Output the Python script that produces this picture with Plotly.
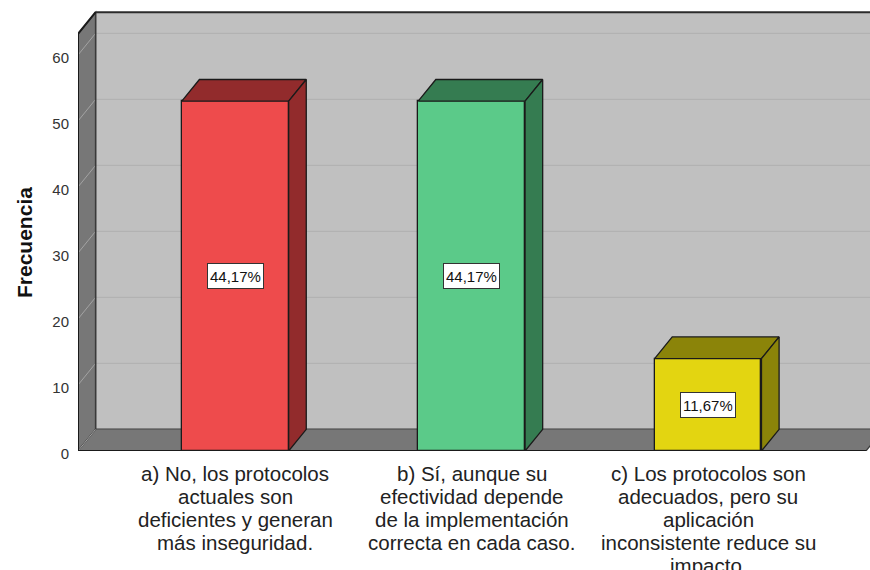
import plotly.graph_objects as go

categories = [
    "a) No, los protocolos<br>actuales son<br>deficientes y generan<br>más inseguridad.",
    "b) Sí, aunque su<br>efectividad depende<br>de la implementación<br>correcta en cada caso.",
    "c) Los protocolos son<br>adecuados, pero su<br>aplicación<br>inconsistente reduce su<br>impacto.",
]
frequencies = [53, 53, 14]
percent_labels = ["44,17%", "44,17%", "11,67%"]
y_ticks = [0, 10, 20, 30, 40, 50, 60]
y_title = "Frecuencia"

front_colors = ["#ee4b4c", "#5bca89", "#e3d511"]
dark_colors = ["#922b2c", "#357c51", "#8b8409"]

# geometry (axis units)
BW = 0.452          # bar width
DX = 0.0745         # depth offset x
DY = 3.29           # depth offset y
XL = -0.665         # front-left corner of the box
XR = 2.668          # front-right corner of the box
H = 63.2            # wall height
XMAX = 2.685
YMAX = 451 / 6.6

FONT = "Liberation Sans, Arial"
xs = list(range(len(categories)))

fig = go.Figure()

# front faces
fig.add_trace(go.Bar(
    x=xs, y=frequencies, width=BW,
    marker=dict(color=front_colors, line=dict(color="#1a1a1a", width=1.3)),
    hoverinfo="skip", showlegend=False,
))

# top and side faces
for xi, v, dc in zip(xs, frequencies, dark_colors):
    x0, x1 = xi - BW / 2, xi + BW / 2
    fig.add_trace(go.Scatter(
        x=[x0, x0 + DX, x1 + DX, x1, x0], y=[v, v + DY, v + DY, v, v],
        fill="toself", fillcolor=dc, mode="lines",
        line=dict(color="#1a1a1a", width=1.3), hoverinfo="skip", showlegend=False,
    ))
    fig.add_trace(go.Scatter(
        x=[x1, x1 + DX, x1 + DX, x1, x1], y=[0, DY, v + DY, v, 0],
        fill="toself", fillcolor=dc, mode="lines",
        line=dict(color="#1a1a1a", width=1.3), hoverinfo="skip", showlegend=False,
    ))

shapes = []
# back wall
shapes.append(dict(type="rect", xref="x", yref="y", x0=XL + DX, x1=XR + DX + 0.2,
                   y0=DY, y1=H + DY, fillcolor="#c0c0c0", line=dict(width=0), layer="below"))
# back wall gridlines
for t in y_ticks[1:]:
    shapes.append(dict(type="line", xref="x", yref="y", x0=XL + DX, x1=XR + DX + 0.2,
                       y0=t + DY, y1=t + DY, line=dict(color="#b2b2b2", width=1.2), layer="below"))
# top edge of back wall
shapes.append(dict(type="line", xref="x", yref="y", x0=XL + DX, x1=XR + DX + 0.2,
                   y0=H + DY, y1=H + DY, line=dict(color="#2b2b2b", width=2), layer="below"))
# side wall
shapes.append(dict(type="path", xref="x", yref="y",
                   path=f"M {XL},0 L {XL + DX},{DY} L {XL + DX},{H + DY} L {XL},{H} Z",
                   fillcolor="#777777", line=dict(color="#3a3a3a", width=1.2), layer="below"))
# floor
shapes.append(dict(type="path", xref="x", yref="y",
                   path=f"M {XL},0 L {XR},0 L {XR + DX},{DY} L {XL + DX},{DY} Z",
                   fillcolor="#777777", line=dict(color="#3a3a3a", width=1.2), layer="below"))
# floor back edge
shapes.append(dict(type="line", xref="x", yref="y", x0=XL + DX, x1=XR + DX,
                   y0=DY, y1=DY, line=dict(color="#5e5e5e", width=1.5), layer="below"))
# side wall gridlines (diagonal)
for t in y_ticks:
    shapes.append(dict(type="line", xref="x", yref="y", x0=XL, x1=XL + DX,
                       y0=t, y1=t + DY, line=dict(color="#a3a3a3", width=1), layer="below"))
# inner vertical edge of side wall
shapes.append(dict(type="line", xref="x", yref="y", x0=XL + DX, x1=XL + DX,
                   y0=DY, y1=H + DY, line=dict(color="#3a3a3a", width=1.5), layer="below"))
# front axis lines
shapes.append(dict(type="line", xref="x", yref="y", x0=XL, x1=XL, y0=0, y1=H,
                   line=dict(color="#1a1a1a", width=2)))
shapes.append(dict(type="line", xref="x", yref="y", x0=XL, x1=XR, y0=0, y1=0,
                   line=dict(color="#1a1a1a", width=2)))
shapes.append(dict(type="line", xref="x", yref="y", x0=XL, x1=XL + DX, y0=H, y1=H + DY,
                   line=dict(color="#1a1a1a", width=2)))

annotations = []
for xi, v, lab in zip(xs, frequencies, percent_labels):
    annotations.append(dict(
        x=xi, y=v / 2, xref="x", yref="y", text=lab, showarrow=False,
        font=dict(family=FONT, size=15, color="#111111"), height=20,
        bgcolor="#ffffff", bordercolor="#333333", borderwidth=1, borderpad=2,
    ))

# category labels, one annotation per line for SPSS-like tight line spacing
for xi, cat in zip(xs, categories):
    for k, line in enumerate(cat.split("<br>")):
        annotations.append(dict(
            x=xi, y=0, xref="x", yref="paper", text=line, showarrow=False,
            yanchor="middle", xanchor="center", yshift=-(22 + 23 * k),
            font=dict(family=FONT, size=20.5, color="#222222"),
        ))

# y-axis title
annotations.append(dict(
    x=-0.0682, y=0.4634, xref="paper", yref="paper", text=f"<b>{y_title}</b>",
    showarrow=False, textangle=-90, xanchor="center", yanchor="middle",
    font=dict(family=FONT, size=21, color="#111111"),
))

fig.update_layout(
    width=870, height=570,
    margin=dict(l=78, r=0, t=0, b=119),
    paper_bgcolor="#ffffff", plot_bgcolor="#ffffff",
    shapes=shapes, annotations=annotations,
    bargap=0,
    xaxis=dict(range=[XL, XMAX], tickvals=xs, showticklabels=False, automargin=False,
               showgrid=False, zeroline=False, showline=False, ticks=""),
    yaxis=dict(range=[0, YMAX], tickvals=y_ticks, showgrid=False, zeroline=False,
               showline=False, ticks="", ticklabelstandoff=8, ticklabelshift=3,
               automargin=False,
               tickfont=dict(family=FONT, size=15, color="#333333")),
)

fig.write_html("out.html", config={"displayModeBar": False},
               post_script="document.body.style.margin='0';")
